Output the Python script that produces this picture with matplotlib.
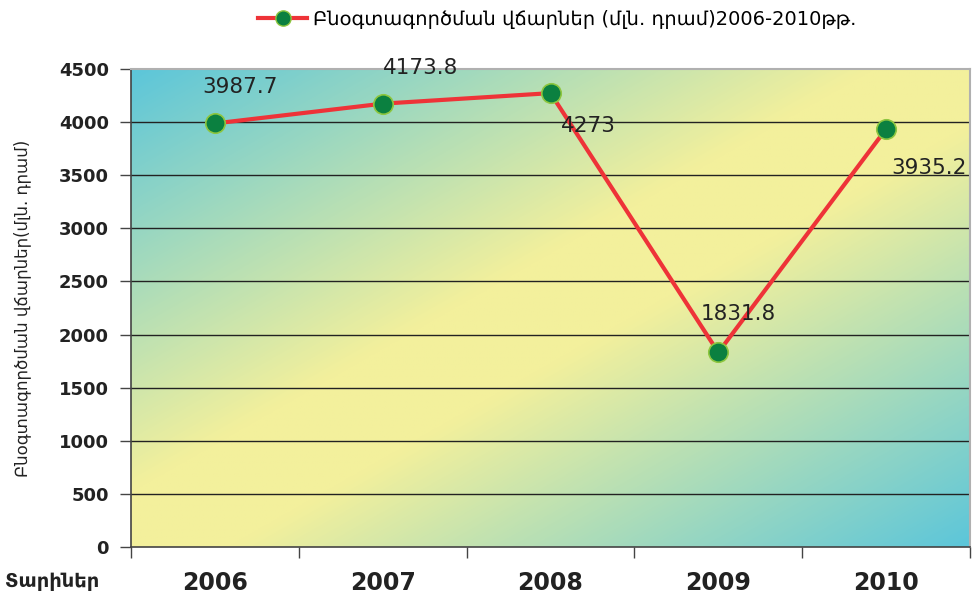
import numpy as np
import matplotlib.pyplot as plt
from matplotlib.colors import LinearSegmentedColormap
from matplotlib.lines import Line2D

years = ["2006", "2007", "2008", "2009", "2010"]
fees = [3987.7, 4173.8, 4273, 1831.8, 3935.2]
fee_labels = ["3987.7", "4173.8", "4273", "1831.8", "3935.2"]
# label offsets in pixels (dx, dy) from each point
label_offsets = [(25, 36), (38, 36), (38, -33), (20, 38), (43, -39)]
yticks = [0, 500, 1000, 1500, 2000, 2500, 3000, 3500, 4000, 4500]

legend_text = "Բնօգտագործման վճարներ (մլն. դրամ)2006-2010թթ."
ylabel_text = "Բնօգտագործման վճարներ(մլն. դրամ)"
xlabel_text = "Տարիներ"

plt.rcParams['font.family'] = ['DejaVu Sans']

fig = plt.figure(figsize=(9.74, 5.96), dpi=100)
ax = fig.add_axes([0.1345, 0.0822, 0.8614, 0.802])

# diagonal gradient background: cyan (top-left) -> yellow -> cyan (bottom-right)
cmap = LinearSegmentedColormap.from_list(
    "bg", [(0.0, "#5cc6da"), (0.44, "#f3f09c"), (0.56, "#f3f09c"), (1.0, "#5cc6da")])
u = np.linspace(0, 1, 400)
v = np.linspace(0, 1, 400)
U, V = np.meshgrid(u, v)
T = (U + (1 - V)) / 2
ax.imshow(T, extent=[-0.5, 4.5, 0, 4500], origin='lower', aspect='auto',
          cmap=cmap, vmin=0, vmax=1, zorder=0)

x = np.arange(len(years))
for yv in yticks[1:-1]:
    ax.axhline(yv, color="#222222", linewidth=1, zorder=1)

ax.plot(x, fees, color="#ee3338", linewidth=3, marker='o', markersize=14,
        markerfacecolor="#0b8040", markeredgecolor="#8dc63f", markeredgewidth=1.2,
        zorder=3, clip_on=False)

for xi, val, lab, (dx, dy) in zip(x, fees, fee_labels, label_offsets):
    ax.annotate(lab, (xi, val), xytext=(dx * 0.72, dy * 0.72), textcoords='offset points',
                ha='center', va='center', fontsize=15.5, color="#222222",
                annotation_clip=False, zorder=4)

ax.set_xlim(-0.5, 4.5)
ax.set_ylim(0, 4500)
ax.set_yticks(yticks)
ax.set_yticklabels([str(t) for t in yticks], fontsize=13, fontweight='bold', color="#222222")
ax.set_xticks(x)
ax.set_xticklabels(years, fontsize=17, fontweight='bold', color="#222222")
ax.set_xticks(np.arange(-0.5, 5.0, 1.0), minor=True)
ax.tick_params(axis='x', which='major', length=0, pad=17)
ax.tick_params(axis='x', which='minor', length=8, width=1, color="#444444", direction='out')
ax.tick_params(axis='y', length=8, width=1, color="#444444", pad=8)

for side in ['left', 'bottom']:
    ax.spines[side].set_color("#444444")
    ax.spines[side].set_linewidth(1.2)
for side in ['top', 'right']:
    ax.spines[side].set_color("#b0b0b0")
    ax.spines[side].set_linewidth(1.5)

ax.set_ylabel(ylabel_text, fontsize=12, color="#222222", labelpad=20)
fig.text(0.005, 0.025, xlabel_text, fontsize=14, fontweight='bold', color="#222222",
         ha='left', va='center')

handle = Line2D([0], [0], color="#ee3338", linewidth=3, marker='o', markersize=11,
                markerfacecolor="#0b8040", markeredgecolor="#8dc63f")
fig.legend([handle], [legend_text], loc='center', bbox_to_anchor=(0.572, 0.968),
           frameon=False, fontsize=14, handlelength=2.5, handletextpad=0.3)

fig.savefig("out.png", dpi=100)
